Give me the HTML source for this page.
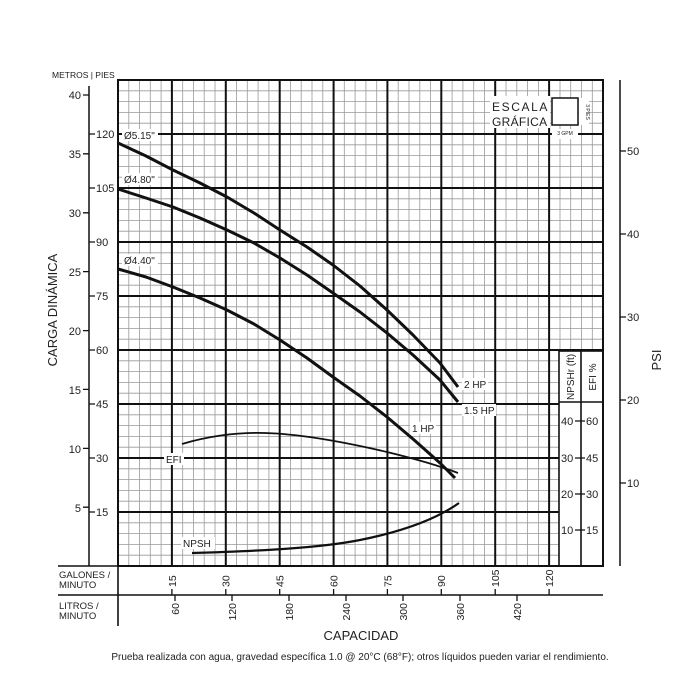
<!DOCTYPE html>
<html><head><meta charset="utf-8"><style>
body{margin:0;background:#fff}
svg{display:block;font-family:"Liberation Sans",sans-serif;fill:#222}
</style></head><body>
<svg width="700" height="700" viewBox="0 0 700 700" xmlns="http://www.w3.org/2000/svg">
<rect width="700" height="700" fill="#fff"/>
<g stroke="#999" stroke-width="0.8">
<path d="M128.8 80V566M139.6 80V566M150.3 80V566M161.1 80V566M182.7 80V566M193.4 80V566M204.2 80V566M215 80V566M236.5 80V566M247.3 80V566M258.1 80V566M268.9 80V566M290.4 80V566M301.2 80V566M312 80V566M322.8 80V566M344.3 80V566M355.1 80V566M365.9 80V566M376.7 80V566M398.2 80V566M409 80V566M419.8 80V566M430.6 80V566M452.1 80V566M462.9 80V566M473.7 80V566M484.5 80V566M506 80V566M516.8 80V566M527.6 80V566M538.4 80V566M560 80V566M570.7 80V566M581.5 80V566M592.3 80V566"/>
<path d="M118 555.2H603M118 544.4H603M118 533.6H603M118 522.8H603M118 501.2H603M118 490.4H603M118 479.6H603M118 468.8H603M118 447.2H603M118 436.4H603M118 425.6H603M118 414.8H603M118 393.2H603M118 382.4H603M118 371.6H603M118 360.8H603M118 339.2H603M118 328.4H603M118 317.6H603M118 306.8H603M118 285.2H603M118 274.4H603M118 263.6H603M118 252.8H603M118 231.2H603M118 220.4H603M118 209.6H603M118 198.8H603M118 177.2H603M118 166.4H603M118 155.6H603M118 144.8H603M118 123.2H603M118 112.4H603M118 101.6H603M118 90.8H603"/>
</g>
<g stroke="#111" stroke-width="2">
<path d="M171.9 80V566M225.8 80V566M279.7 80V566M333.6 80V566M387.4 80V566M441.3 80V566M495.2 80V566M549.1 80V566"/>
<path d="M118 512H603M118 458H603M118 404H603M118 350H603M118 296H603M118 242H603M118 188H603M118 134H603"/>
</g>
<rect x="559" y="351" width="44" height="215" fill="#fff" stroke="#111" stroke-width="1.6"/>
<path d="M559 402H603M581 351V566" stroke="#111" stroke-width="1.6"/>
<g font-size="10" text-anchor="middle">
<text transform="translate(574,377) rotate(-90)">NPSHr (ft)</text>
<text transform="translate(596,377) rotate(-90)">EFI %</text>
</g>
<g font-size="11">
<text x="561" y="425">40</text><text x="586" y="425">60</text>
<text x="561" y="462">30</text><text x="586" y="462">45</text>
<text x="561" y="498">20</text><text x="586" y="498">30</text>
<text x="561" y="534">10</text><text x="586" y="534">15</text>
</g>
<path d="M575 421H585M575 458H585M575 494H585M575 530H585" stroke="#111" stroke-width="1.2"/>
<rect x="118" y="80" width="485" height="486" fill="none" stroke="#111" stroke-width="2"/>
<rect x="490" y="96" width="60" height="32" fill="#fff"/>
<text x="492" y="111" font-size="12" letter-spacing="1.6">ESCALA</text>
<text x="492" y="126" font-size="12" letter-spacing="0.3">GRÁFICA</text>
<rect x="552" y="98" width="26" height="27" fill="#fff" stroke="#111" stroke-width="1.5"/>
<rect x="579" y="98" width="10" height="27" fill="#fff"/>
<text transform="translate(586,112) rotate(90)" font-size="5" text-anchor="middle">3 PIES</text>
<rect x="552" y="129" width="26" height="10" fill="#fff"/>
<text x="565" y="135" font-size="5" text-anchor="middle">3 GPM</text>
<g fill="none" stroke="#111" stroke-width="3" stroke-linejoin="round">
<polyline points="118,143 146,156 173,170 200,183 227,197 254,213 280,230 307,247 333,265 360,286 387,310 413,335 440,363 458,387"/>
<polyline points="118,189 146,198 173,207 200,218 227,230 254,243 280,258 307,275 333,293 360,312 387,333 413,355 440,380 458,402"/>
<polyline points="118,269 146,277 173,287 200,298 227,310 254,324 280,340 307,358 333,377 360,396 387,417 413,439 440,463 455,478"/>
</g>
<path d="M182 444 C205 437 235 432 265 433 C300 434 340 441 387 452 C420 460 440 466 458 473" fill="none" stroke="#111" stroke-width="1.8"/>
<path d="M192 553 C260 551 320 548 360 540 C400 532 435 520 459 503" fill="none" stroke="#111" stroke-width="2.2"/>
<g font-size="10">
<rect x="122" y="129" width="36" height="12" fill="#fff"/><text x="124" y="139">Ø5.15"</text>
<rect x="122" y="173" width="36" height="12" fill="#fff"/><text x="124" y="183">Ø4.80"</text>
<rect x="122" y="254" width="36" height="12" fill="#fff"/><text x="124" y="264">Ø4.40"</text>
<rect x="462" y="378" width="26" height="12" fill="#fff"/><text x="464" y="388">2 HP</text>
<rect x="462" y="404" width="34" height="12" fill="#fff"/><text x="464" y="414">1.5 HP</text>
<rect x="410" y="422" width="26" height="12" fill="#fff"/><text x="412" y="432">1 HP</text>
<rect x="164" y="453" width="20" height="12" fill="#fff"/><text x="166" y="463">EFI</text>
<rect x="181" y="537" width="34" height="12" fill="#fff"/><text x="183" y="547">NPSH</text>
</g>
<text x="52" y="78" font-size="8.5">METROS | PIES</text>
<path d="M89 86V566" stroke="#111" stroke-width="1.5"/>
<g stroke="#111" stroke-width="1.3">
<path d="M83 95H89M83 153.8H89M83 212.8H89M83 271.6H89M83 330.6H89M83 389.4H89M83 448.4H89M83 507.2H89"/>
<path d="M89 134H95M89 188H95M89 242H95M89 296H95M89 350H95M89 404H95M89 458H95M89 512H95"/>
</g>
<g font-size="11" text-anchor="end">
<text x="81" y="99">40</text><text x="81" y="158">35</text><text x="81" y="217">30</text><text x="81" y="276">25</text>
<text x="81" y="335">20</text><text x="81" y="394">15</text><text x="81" y="453">10</text><text x="81" y="512">5</text>
</g>
<g font-size="11">
<text x="96" y="138">120</text><text x="96" y="192">105</text><text x="96" y="246">90</text><text x="96" y="300">75</text>
<text x="96" y="354">60</text><text x="96" y="408">45</text><text x="96" y="462">30</text><text x="96" y="516">15</text>
</g>
<text transform="translate(57,310) rotate(-90)" font-size="13" text-anchor="middle">CARGA DINÁMICA</text>
<path d="M620 80V566" stroke="#111" stroke-width="1.5"/>
<g stroke="#111" stroke-width="1.3"><path d="M620 151H626M620 234H626M620 317H626M620 400H626M620 483H626"/></g>
<g font-size="11">
<text x="627" y="155">50</text><text x="627" y="238">40</text><text x="627" y="321">30</text><text x="627" y="404">20</text><text x="627" y="487">10</text>
</g>
<text transform="translate(661,360) rotate(-90)" font-size="13" text-anchor="middle">PSI</text>
<path d="M58 566H118M58 595H603M118 566V626" stroke="#111" stroke-width="1.6"/>
<g font-size="9.5"><text x="59" y="578">GALONES /</text><text x="59" y="588">MINUTO</text>
<text x="59" y="609">LITROS /</text><text x="59" y="619">MINUTO</text></g>
<g stroke="#111" stroke-width="1.3">
<path d="M171.9 595V589M225.8 595V589M279.7 595V589M333.6 595V589M387.4 595V589M441.3 595V589M495.2 595V589M549.1 595V589"/>
<path d="M175 595V601M232 595V601M289 595V601M346 595V601M403 595V601M460 595V601M517 595V601"/>
</g>
<g font-size="10.5" text-anchor="start">
<text transform="translate(175.8,587) rotate(-90)">15</text>
<text transform="translate(229.7,587) rotate(-90)">30</text>
<text transform="translate(283.6,587) rotate(-90)">45</text>
<text transform="translate(337.5,587) rotate(-90)">60</text>
<text transform="translate(391.3,587) rotate(-90)">75</text>
<text transform="translate(445.2,587) rotate(-90)">90</text>
<text transform="translate(499.1,587) rotate(-90)">105</text>
<text transform="translate(553,587) rotate(-90)">120</text>
</g>
<g font-size="10.5" text-anchor="end">
<text transform="translate(179,603) rotate(-90)">60</text>
<text transform="translate(236,603) rotate(-90)">120</text>
<text transform="translate(293,603) rotate(-90)">180</text>
<text transform="translate(350,603) rotate(-90)">240</text>
<text transform="translate(407,603) rotate(-90)">300</text>
<text transform="translate(464,603) rotate(-90)">360</text>
<text transform="translate(521,603) rotate(-90)">420</text>
</g>
<text x="361" y="640" font-size="13" text-anchor="middle">CAPACIDAD</text>
<text x="360" y="660" font-size="10" text-anchor="middle">Prueba realizada con agua, gravedad específica 1.0 @ 20°C (68°F); otros líquidos pueden variar el rendimiento.</text>
</svg>
</body></html>
